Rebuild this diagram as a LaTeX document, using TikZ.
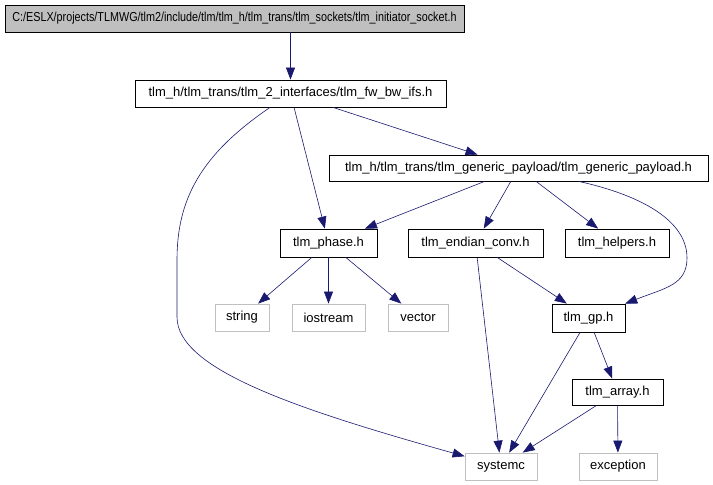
\documentclass[tikz,border=0pt]{standalone}
\usepackage{fontspec}
\setmainfont{Liberation Sans}
\usepackage{graphicx}
\usepackage{xcolor}
\usepackage{tikz}
\usetikzlibrary{arrows.meta, positioning}

\definecolor{edgeblue}{HTML}{191970}
\definecolor{sysgray}{HTML}{C0C0C0}
\definecolor{rootgray}{HTML}{BFBFBF}

\begin{document}
\begin{tikzpicture}[
        x=1pt, y=-1pt,
        hdr/.style={rectangle, draw=black, fill=white, line width=0.8pt, minimum height=27pt, inner sep=0pt, font=\fontsize{13}{15}\selectfont},
        sys/.style={hdr, draw=sysgray},
        top/.style={hdr, fill=rootgray},
        arr/.style={-{Triangle[length=12pt, width=9pt]}, edgeblue, line width=0.6pt}
    ]
        \useasboundingbox (0,0) rectangle (713,485);

        % Included headers
        \node[top, minimum width=459pt] (root) at (234.5,18.5) {\scalebox{0.83}[1]{C:/ESLX/projects/TLMWG/tlm2/include/tlm/tlm\_h/tlm\_trans/tlm\_sockets/tlm\_initiator\_socket.h}};
        \node[hdr, minimum width=311pt] (fwbw) at (290.5,93.5) {tlm\_h/tlm\_trans/tlm\_2\_interfaces/tlm\_fw\_bw\_ifs.h};
        \node[hdr, minimum width=379pt, minimum height=26pt] (gpay) at (518.5,168) {tlm\_h/tlm\_trans/tlm\_generic\_payload/tlm\_generic\_payload.h};
        \node[hdr, minimum width=97pt, minimum height=28pt] (phase) at (328.5,243) {tlm\_phase.h};
        \node[hdr, minimum width=135pt, minimum height=28pt] (endian) at (475.5,243) {tlm\_endian\_conv.h};
        \node[hdr, minimum width=104pt, minimum height=28pt] (helpers) at (617,243) {tlm\_helpers.h};
        \node[hdr, minimum width=73pt, minimum height=28pt] (gp) at (588.5,318) {tlm\_gp.h};
        \node[hdr, minimum width=91pt, minimum height=26pt] (array) at (617.5,392) {tlm\_array.h};

        % System headers
        \node[sys, minimum width=54pt] (str) at (242,317.5) {string};
        \node[sys, minimum width=73pt] (iostr) at (328.5,317.5) {iostream};
        \node[sys, minimum width=60pt] (vec) at (418,317.5) {vector};
        \node[sys, minimum width=72pt] (sysc) at (501,466.5) {systemc};
        \node[sys, minimum width=78pt] (excp) at (618,466.5) {exception};

        % Straight edges
        \draw[arr] (root.south -| fwbw) -- (fwbw);
        \draw[arr] (fwbw) -- (phase);
        \draw[arr] (fwbw) -- (gpay);
        \draw[arr] (gpay) -- (phase);
        \draw[arr] (gpay) -- (endian);
        \draw[arr] (gpay) -- (helpers);
        \draw[arr] (phase) -- (str);
        \draw[arr] (phase) -- (iostr);
        \draw[arr] (phase) -- (vec);
        \draw[arr] (endian) -- (gp);
        \draw[arr] (endian) -- (sysc);
        \draw[arr] (gp) -- (sysc);
        \draw[arr] (gp) -- (array);
        \draw[arr] (array) -- (sysc);
        \draw[arr] (array) -- (excp);

        % Curved edges
        \draw[arr] (fwbw) .. controls (200,155) and (177,200) .. (177,260)
            -- (177,317) .. controls (177,370) and (300,410) .. (sysc);
        \draw[arr] (gpay) .. controls (640,195) and (687,220) .. (687,258)
            .. controls (687,285) and (665,288) .. (gp);
    \end{tikzpicture}
\end{document}
